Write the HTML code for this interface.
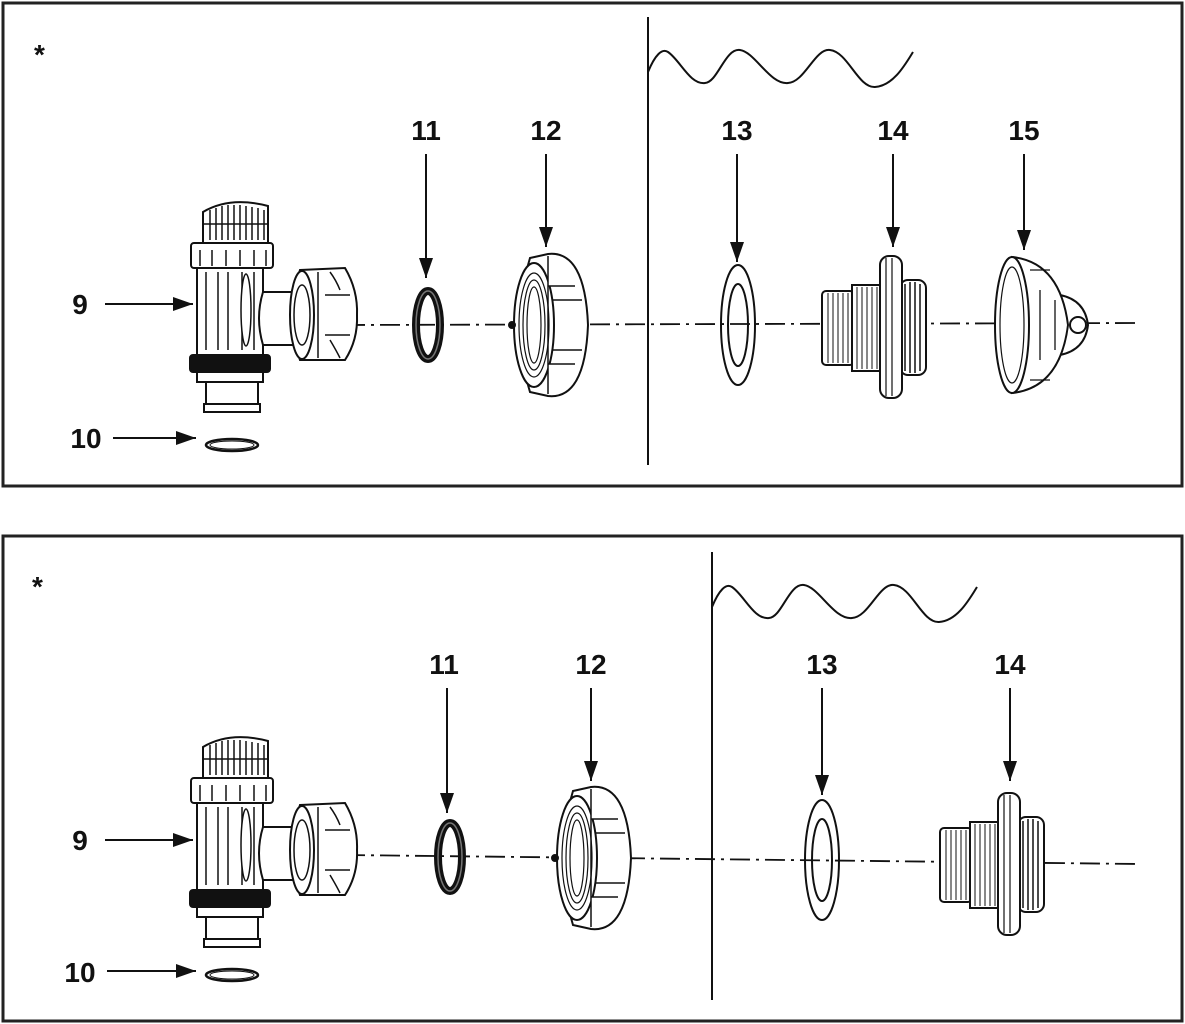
<!DOCTYPE html>
<html><head><meta charset="utf-8"><style>
html,body{margin:0;padding:0;background:#fff;}
svg{display:block;}
text{font-family:"Liberation Sans",sans-serif;font-weight:bold;font-size:28px;fill:#111;}
</style></head><body>
<svg width="1185" height="1024" viewBox="0 0 1185 1024" xmlns="http://www.w3.org/2000/svg">
<defs>
<marker id="ah" markerWidth="20" markerHeight="14" refX="20" refY="7" orient="auto" markerUnits="userSpaceOnUse" viewBox="0 0 20 14">
<path d="M0,0 L20,7 L0,14 z" fill="#111"/></marker>
<g id="valve" stroke="#111" fill="#fff" stroke-width="2">
  <path d="M203,212 Q230,196 268,206 L268,243 L203,243 z"/>
  <g stroke-width="1.5">
  <path d="M210,210 V240 M216,208 V240 M222,206 V240 M228,205 V240 M234,205 V240 M240,205 V240 M246,206 V240 M252,207 V240 M258,208 V240 M264,210 V240"/>
  <path d="M203,224 H268"/></g>
  <rect x="191" y="243" width="82" height="25" rx="3"/>
  <path d="M200,250 V266 M212,250 V266 M226,250 V266 M240,250 V266 M254,250 V266 M266,250 V266" stroke-width="1.5"/>
  <rect x="197" y="268" width="66" height="87"/>
  <path d="M206,272 V350 M218,272 V350 M228,272 V350 M242,272 V350 M254,272 V350" stroke-width="1.5"/>
  <ellipse cx="246" cy="310" rx="5" ry="36" stroke-width="1.5"/>
  <rect x="190" y="355" width="80" height="17" rx="3" fill="#111"/>
  <rect x="197" y="372" width="66" height="10"/>
  <rect x="206" y="382" width="52" height="30"/>
  <rect x="204" y="404" width="56" height="8"/>
  <path d="M263,292 H300 V345 H263 Q255,318 263,292 z"/>
  <path d="M300,270 L345,268 Q358,290 357,315 Q358,340 345,360 L300,360 Q285,315 300,270 z"/>
  <ellipse cx="302" cy="315" rx="12" ry="44"/>
  <ellipse cx="302" cy="315" rx="8" ry="30" stroke-width="1.5"/>
  <path d="M318,272 V358 M330,272 Q336,280 340,290 M330,340 Q336,350 340,358 M325,295 H350 M325,335 H350" stroke-width="1.5"/>
</g>
<g id="ring10"><ellipse cx="232" cy="445" rx="26" ry="6" fill="none" stroke="#111" stroke-width="2.5"/><ellipse cx="232" cy="445" rx="22" ry="4" fill="none" stroke="#111" stroke-width="1"/></g>
<g id="ring11" fill="none" stroke="#111"><ellipse cx="428" cy="325" rx="12" ry="34" stroke-width="8"/><ellipse cx="428" cy="325" rx="12" ry="34" stroke="#777" stroke-width="1.5"/></g>
<g id="nut12" stroke="#111" fill="#fff" stroke-width="2">
  <path d="M530,258 L548,254 Q585,250 588,325 Q585,400 548,396 L530,392 Q510,325 530,258 z"/>
  <ellipse cx="534" cy="325" rx="20" ry="62"/>
  <ellipse cx="534" cy="325" rx="15" ry="52" stroke-width="1.2"/>
  <ellipse cx="534" cy="325" rx="11" ry="45" stroke-width="1.2"/>
  <ellipse cx="534" cy="325" rx="7" ry="38" stroke-width="1.2"/>
  <path d="M548,256 V286 H575 M548,394 V364 H575 M552,300 H582 M552,350 H582 M548,286 V364" stroke-width="1.5"/>
  <circle cx="512" cy="325" r="3" fill="#111"/>
</g>
<g id="washer13" fill="none" stroke="#111" stroke-width="2"><ellipse cx="738" cy="325" rx="17" ry="60"/><ellipse cx="738" cy="325" rx="10" ry="41"/></g>
<g id="fit14" stroke="#111" fill="#fff" stroke-width="2">
  <rect x="822" y="291" width="32" height="74" rx="4"/>
  <rect x="852" y="285" width="30" height="86"/>
  <path d="M828,293 V363 M833,293 V363 M838,293 V363 M843,293 V363 M848,293 V363 M857,287 V369 M862,287 V369 M867,287 V369 M872,287 V369 M877,287 V369" stroke-width="1"/>
  <rect x="900" y="280" width="26" height="95" rx="8"/>
  <path d="M905,284 V371 M910,282 V373 M915,282 V373 M920,284 V371" stroke-width="1.5"/>
  <rect x="880" y="256" width="22" height="142" rx="9"/>
  <path d="M886,258 V396 M892,258 V396" stroke-width="1.2"/>
</g>
<g id="fit15" stroke="#111" fill="#fff" stroke-width="2">
  <path d="M1060,295 Q1085,300 1088,325 Q1085,350 1060,355 z"/>
  <path d="M1012,257 Q1060,262 1068,325 Q1060,388 1012,393 z"/>
  <ellipse cx="1012" cy="325" rx="17" ry="68"/>
  <ellipse cx="1012" cy="325" rx="12" ry="58" stroke-width="1.2"/>
  <path d="M1030,270 H1050 M1030,380 H1050 M1040,290 V360 M1055,300 V350" stroke-width="1.3"/>
  <circle cx="1078" cy="325" r="8"/>
</g>
</defs>
<g fill="none" stroke="#222">
<rect x="3" y="3" width="1179" height="483" stroke-width="3"/>
<rect x="3" y="536" width="1179" height="485" stroke-width="3"/>
</g>
<!-- Panel 1 -->
<text x="34" y="64" font-size="36">*</text>
<line x1="648" y1="17" x2="648" y2="465" stroke="#111" stroke-width="2"/>
<path d="M648,72 C655,55 662,48 668,52 C680,60 690,85 705,83 C718,82 725,48 740,50 C755,52 770,85 788,83 C805,82 815,48 830,50 C848,52 858,88 875,87 C893,86 905,65 913,52" fill="none" stroke="#111" stroke-width="2"/>
<line x1="345" y1="325" x2="1140" y2="323" stroke="#111" stroke-width="1.8" stroke-dasharray="20,6,3,6"/>
<use href="#valve"/><use href="#ring10"/><use href="#ring11"/><use href="#nut12"/><use href="#washer13"/><use href="#fit14"/><use href="#fit15"/>
<g stroke="#111" stroke-width="2" marker-end="url(#ah)">
<line x1="426" y1="154" x2="426" y2="278"/>
<line x1="546" y1="154" x2="546" y2="247"/>
<line x1="737" y1="154" x2="737" y2="262"/>
<line x1="893" y1="154" x2="893" y2="247"/>
<line x1="1024" y1="154" x2="1024" y2="250"/>
<line x1="105" y1="304" x2="193" y2="304"/>
<line x1="113" y1="438" x2="196" y2="438"/>
</g>
<text x="426" y="140" text-anchor="middle">11</text>
<text x="546" y="140" text-anchor="middle">12</text>
<text x="737" y="140" text-anchor="middle">13</text>
<text x="893" y="140" text-anchor="middle">14</text>
<text x="1024" y="140" text-anchor="middle">15</text>
<text x="80" y="314" text-anchor="middle">9</text>
<text x="86" y="448" text-anchor="middle">10</text>
<!-- Panel 2 -->
<text x="32" y="596" font-size="36">*</text>
<line x1="712" y1="552" x2="712" y2="1000" stroke="#111" stroke-width="2"/>
<path d="M712,607 C719,590 726,583 732,587 C744,595 754,620 769,618 C782,617 789,583 804,585 C819,587 834,620 852,618 C869,617 879,583 894,585 C912,587 922,623 939,622 C957,621 969,600 977,587" fill="none" stroke="#111" stroke-width="2"/>
<line x1="345" y1="855" x2="1140" y2="864" stroke="#111" stroke-width="1.8" stroke-dasharray="20,6,3,6"/>
<g transform="translate(0,535)"><use href="#valve"/></g>
<g transform="translate(0,530)"><use href="#ring10"/></g>
<g transform="translate(22,532)"><use href="#ring11"/></g>
<g transform="translate(43,533)"><use href="#nut12"/></g>
<g transform="translate(84,535)"><use href="#washer13"/></g>
<g transform="translate(118,537)"><use href="#fit14"/></g>
<g stroke="#111" stroke-width="2" marker-end="url(#ah)">
<line x1="447" y1="688" x2="447" y2="813"/>
<line x1="591" y1="688" x2="591" y2="781"/>
<line x1="822" y1="688" x2="822" y2="795"/>
<line x1="1010" y1="688" x2="1010" y2="781"/>
<line x1="105" y1="840" x2="193" y2="840"/>
<line x1="107" y1="971" x2="196" y2="971"/>
</g>
<text x="444" y="674" text-anchor="middle">11</text>
<text x="591" y="674" text-anchor="middle">12</text>
<text x="822" y="674" text-anchor="middle">13</text>
<text x="1010" y="674" text-anchor="middle">14</text>
<text x="80" y="850" text-anchor="middle">9</text>
<text x="80" y="982" text-anchor="middle">10</text>
</svg>
</body></html>
